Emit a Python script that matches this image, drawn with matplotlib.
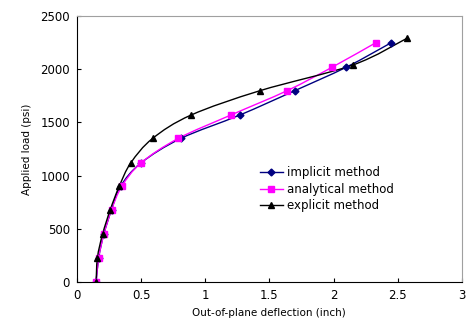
import matplotlib
matplotlib.use("Agg")
import matplotlib.pyplot as plt
from matplotlib.path import Path
from matplotlib.patches import PathPatch
from matplotlib.lines import Line2D

# out-of-plane deflection (inch) vs applied load (psi)
implicit_x = [0.15, 0.17, 0.21, 0.27, 0.34, 0.50, 0.81, 1.27, 1.70, 2.10, 2.45]
implicit_y = [0, 230, 450, 680, 900, 1120, 1350, 1570, 1800, 2020, 2250]
analytical_x = [0.15, 0.17, 0.21, 0.27, 0.35, 0.50, 0.79, 1.20, 1.64, 1.99, 2.33]
analytical_y = [0, 230, 450, 680, 900, 1120, 1350, 1570, 1800, 2020, 2250]
explicit_x = [0.15, 0.16, 0.20, 0.26, 0.33, 0.42, 0.59, 0.89, 1.43, 2.15, 2.57]
explicit_y = [0, 230, 450, 680, 900, 1120, 1350, 1570, 1800, 2040, 2290]


def smooth_path(xs, ys):
    # Excel-style smoothed line: cubic Bezier segments through the points
    pts = list(zip(xs, ys))
    n = len(pts)
    verts = [pts[0]]
    codes = [Path.MOVETO]
    for i in range(n - 1):
        p0 = pts[max(i - 1, 0)]
        p1 = pts[i]
        p2 = pts[i + 1]
        p3 = pts[min(i + 2, n - 1)]
        c1 = (p1[0] + (p2[0] - p0[0]) / 6, p1[1] + (p2[1] - p0[1]) / 6)
        c2 = (p2[0] - (p3[0] - p1[0]) / 6, p2[1] - (p3[1] - p1[1]) / 6)
        verts += [c1, c2, p2]
        codes += [Path.CURVE4] * 3
    return Path(verts, codes)


plt.rcParams["font.family"] = ["DejaVu Sans"]

fig = plt.figure(figsize=(4.66, 3.22), dpi=100)
ax = fig.add_axes([0.165, 0.124, 0.826, 0.826])

series = [
    (implicit_x, implicit_y, "#000080", "D", 3.5, "implicit method"),
    (analytical_x, analytical_y, "#FF00FF", "s", 5, "analytical method"),
    (explicit_x, explicit_y, "black", "^", 5, "explicit method"),
]
handles = []
for xs, ys, col, mk, ms, lab in series:
    ax.add_patch(PathPatch(smooth_path(xs, ys), facecolor="none",
                           edgecolor=col, lw=1))
    ax.plot(xs, ys, ls="none", marker=mk, ms=ms, color=col)
    handles.append(Line2D([], [], color=col, lw=1, marker=mk, ms=ms, label=lab))

ax.set_xlim(0, 3)
ax.set_ylim(0, 2500)
ax.set_xticks([0, 0.5, 1, 1.5, 2, 2.5, 3])
ax.set_xticklabels(["0", "0.5", "1", "1.5", "2", "2.5", "3"])
ax.set_yticks(range(0, 2501, 500))
ax.tick_params(direction="in", length=3, labelsize=8.5, pad=5)
ax.spines["top"].set_color("#a0a0a0")
ax.spines["right"].set_color("#a0a0a0")
ax.set_xlabel("Out-of-plane deflection (inch)", fontsize=7.5, labelpad=4)
ax.set_ylabel("Applied load (psi)", fontsize=7.5, labelpad=6)

ax.legend(handles=handles, loc="upper left", bbox_to_anchor=(0.447, 0.475),
          frameon=False, fontsize=8.5, handlelength=2, handletextpad=0.3,
          labelspacing=0.3)

fig.savefig("out.png", dpi=100)
